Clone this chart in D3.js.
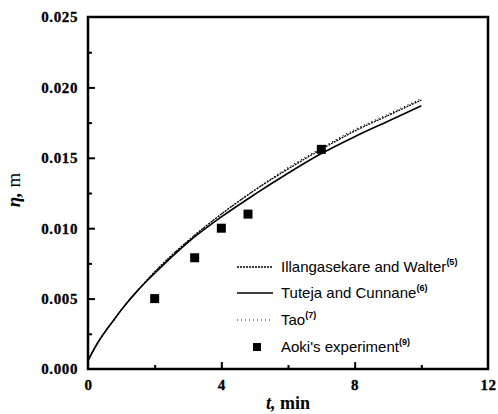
<!DOCTYPE html>
<html><head><meta charset="utf-8">
<script src="https://cdn.jsdelivr.net/npm/d3@7"></script>
<style>
body{margin:0;background:#fff;}
svg{display:block;}
.tick text{font-family:"Liberation Serif","Times New Roman",serif;font-weight:bold;font-size:15px;letter-spacing:0.6px;fill:#000;stroke:#000;stroke-width:0.3px;}
</style></head><body>
<svg id="c" width="498" height="414"></svg>
<script>
// ---- data ----
const tValues = [0, 0.25, 0.5, 0.75, 1, 1.5, 2, 3, 4, 5, 6, 7, 8, 9, 10];
const illangasekare = [0.0006, 0.0017, 0.0026, 0.0034, 0.0042, 0.0056, 0.0069, 0.0091, 0.0110, 0.0127, 0.0142, 0.0156, 0.0169, 0.0180, 0.0191];
const tuteja = [0.0006, 0.0017, 0.0026, 0.0034, 0.0042, 0.0056, 0.0068, 0.0090, 0.0108, 0.0124, 0.0139, 0.0153, 0.0165, 0.0176, 0.0187];
const tao = [0.0006, 0.0017, 0.0026, 0.0034, 0.0042, 0.0056, 0.0069, 0.0091, 0.0110, 0.0127, 0.0143, 0.0157, 0.0170, 0.0181, 0.0192];
const expT = [2, 3.2, 4, 4.8, 7];
const expEta = [0.0050, 0.0079, 0.0100, 0.0110, 0.0156];
const xTickLabels = [0, 4, 8, 12];
const xMinorTicks = [2, 6, 10];
const yTickLabels = [0, 0.005, 0.010, 0.015, 0.020, 0.025];
const yMinorTicks = [0.0025, 0.0075, 0.0125, 0.0175, 0.0225];
const legendNames = ["Illangasekare and Walter", "Tuteja and Cunnane", "Tao", "Aoki's experiment"];
const legendRefs = ["(5)", "(6)", "(7)", "(9)"];

// ---- layout ----
const L = 88, R = 488, T = 17, B = 369;
const svg = d3.select("#c");
const x = d3.scaleLinear().domain([0, 12]).range([L, R]);
const y = d3.scaleLinear().domain([0, 0.025]).range([B, T]);

// curves
const line = d3.line().x(d => x(d[0])).y(d => y(d[1])).curve(d3.curveMonotoneX);
const series = [
  {vals: illangasekare, dash: "2,1", w: 1.3},
  {vals: tuteja, dash: null, w: 1.6},
  {vals: tao, dash: "1,3", w: 1.2}
];
series.forEach(s => {
  svg.append("path")
    .datum(tValues.map((t, i) => [t, s.vals[i]]))
    .attr("d", line).attr("fill", "none").attr("stroke", "#000")
    .attr("stroke-width", s.w).attr("stroke-dasharray", s.dash);
});

// experiment squares
const sq = 9;
svg.selectAll("rect.pt").data(expT.map((t, i) => [t, expEta[i]])).enter()
  .append("rect").attr("class", "pt")
  .attr("x", d => x(d[0]) - sq / 2).attr("y", d => y(d[1]) - sq / 2)
  .attr("width", sq).attr("height", sq).attr("fill", "#000");

// axes
const yAx = svg.append("g").attr("transform", `translate(${L},0)`)
  .call(d3.axisLeft(y).tickValues(yTickLabels).tickFormat(d3.format(".3f")).tickSizeInner(-7).tickSizeOuter(0).tickPadding(10));
const yMin = svg.append("g").attr("transform", `translate(${L},0)`)
  .call(d3.axisLeft(y).tickValues(yMinorTicks).tickFormat("").tickSizeInner(-4).tickSizeOuter(0));
const xAx = svg.append("g").attr("transform", `translate(0,${B})`)
  .call(d3.axisBottom(x).tickValues(xTickLabels).tickFormat(d3.format("d")).tickSizeInner(-7).tickSizeOuter(0).tickPadding(10));
const xMin = svg.append("g").attr("transform", `translate(0,${B})`)
  .call(d3.axisBottom(x).tickValues(xMinorTicks).tickFormat("").tickSizeInner(-4).tickSizeOuter(0));
[yAx, yMin, xAx, xMin].forEach(g => {
  g.select(".domain").remove();
  g.selectAll(".tick line").attr("stroke", "#000").attr("stroke-width", 2);
});
xAx.selectAll(".tick").filter(d => d === 0 || d === 12).select("line").remove();
yAx.selectAll(".tick").filter(d => d === 0 || d === 0.025).select("line").remove();

// frame
svg.append("rect").attr("x", L).attr("y", T).attr("width", R - L).attr("height", B - T)
  .attr("fill", "none").attr("stroke", "#000").attr("stroke-width", 2.5);

// axis titles
const yt = svg.append("text").attr("transform", "translate(20,190) rotate(-90)")
  .attr("text-anchor", "middle").attr("font-family", "Liberation Serif, serif").attr("font-size", 19);
yt.append("tspan").attr("font-weight", "bold").attr("font-style", "italic").text("η,");
yt.append("tspan").text(" m");
const xt = svg.append("text").attr("x", 288).attr("y", 409)
  .attr("text-anchor", "middle").attr("font-family", "Liberation Serif, serif").attr("font-size", 18).attr("font-weight", "bold");
xt.append("tspan").attr("font-style", "italic").text("t,");
xt.append("tspan").text(" min");

// legend
const rowsY = [267, 293, 320, 347];
const lx0 = 237, lx1 = 273, tx = 281;
series.forEach((s, i) => {
  svg.append("line").attr("x1", lx0).attr("x2", lx1).attr("y1", rowsY[i]).attr("y2", rowsY[i])
    .attr("stroke", "#000").attr("stroke-width", s.w).attr("stroke-dasharray", s.dash);
});
svg.append("rect").attr("x", 253).attr("y", rowsY[3] - 4).attr("width", 8).attr("height", 8).attr("fill", "#000");
legendNames.forEach((n, i) => {
  const t = svg.append("text").attr("x", tx).attr("y", rowsY[i] + 5)
    .attr("font-family", "Liberation Sans, Arial, sans-serif").attr("font-size", 15).attr("fill", "#000");
  t.append("tspan").text(n);
  t.append("tspan").attr("font-size", 9).attr("font-weight", "bold").attr("dy", -7).text(legendRefs[i]);
});
</script></body></html>
